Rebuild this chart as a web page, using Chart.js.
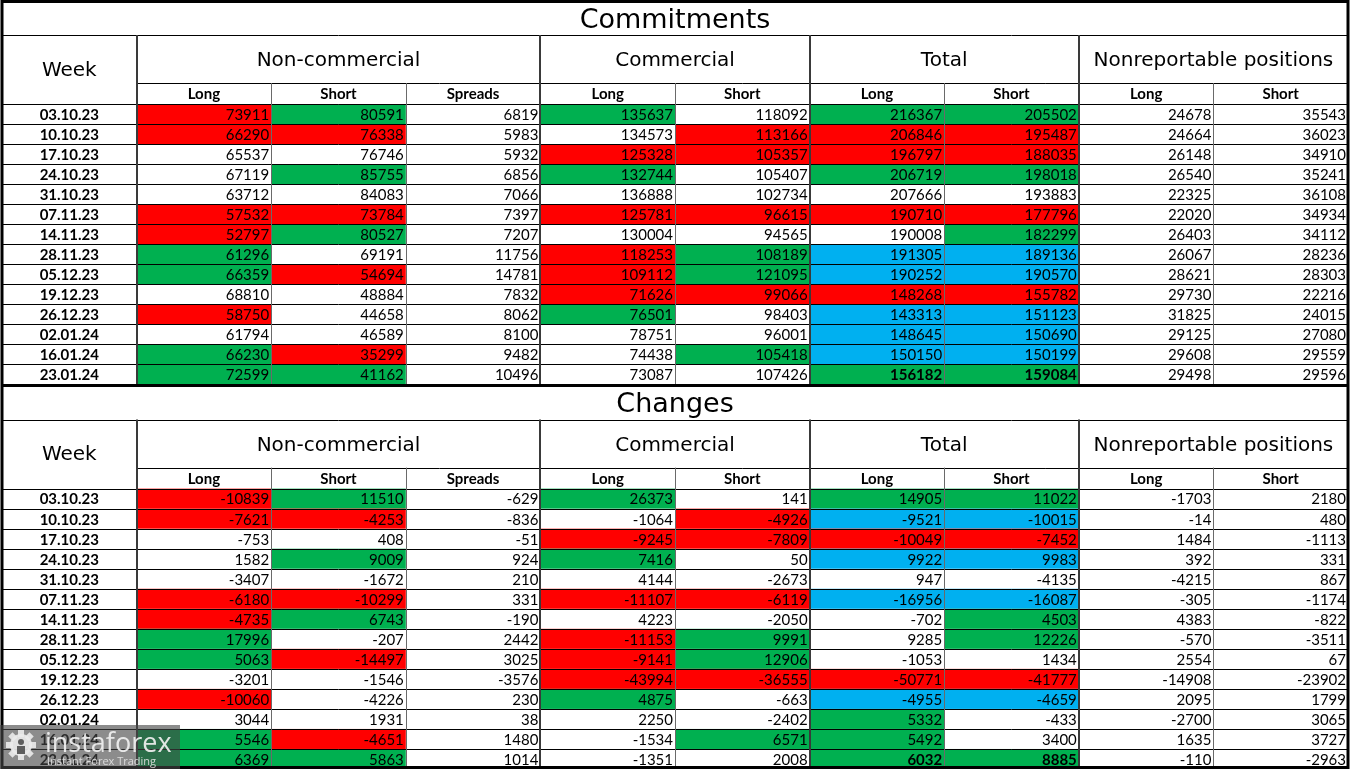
<!DOCTYPE html>
<html>
<head>
<meta charset="utf-8">
<title>Commitments</title>
<script src="https://cdn.jsdelivr.net/npm/chart.js@4.4.0/dist/chart.umd.min.js"></script>
<style>
    html, body { margin: 0; padding: 0; background: #fff; }
    #tabla { display: block; }
</style>
</head>
<body>
<canvas id="tabla" width="1350" height="769"></canvas>
<script>
// --- DATOS ---
const weeks = ['03.10.23', '10.10.23', '17.10.23', '24.10.23', '31.10.23', '07.11.23', '14.11.23',
               '28.11.23', '05.12.23', '19.12.23', '26.12.23', '02.01.24', '16.01.24', '23.01.24'];
const sectionTitles = ['Commitments', 'Changes'];
const groupTitles = ['Non-commercial', 'Commercial', 'Total', 'Nonreportable positions'];
const groupSpans = [3, 2, 2, 2];
const columnLabels = ['Long', 'Short', 'Spreads', 'Long', 'Short', 'Long', 'Short', 'Long', 'Short'];

// Commitments
const commNcLong   = [73911, 66290, 65537, 67119, 63712, 57532, 52797, 61296, 66359, 68810, 58750, 61794, 66230, 72599];
const commNcShort  = [80591, 76338, 76746, 85755, 84083, 73784, 80527, 69191, 54694, 48884, 44658, 46589, 35299, 41162];
const commSpreads  = [6819, 5983, 5932, 6856, 7066, 7397, 7207, 11756, 14781, 7832, 8062, 8100, 9482, 10496];
const commCLong    = [135637, 134573, 125328, 132744, 136888, 125781, 130004, 118253, 109112, 71626, 76501, 78751, 74438, 73087];
const commCShort   = [118092, 113166, 105357, 105407, 102734, 96615, 94565, 108189, 121095, 99066, 98403, 96001, 105418, 107426];
const commTLong    = [216367, 206846, 196797, 206719, 207666, 190710, 190008, 191305, 190252, 148268, 143313, 148645, 150150, 156182];
const commTShort   = [205502, 195487, 188035, 198018, 193883, 177796, 182299, 189136, 190570, 155782, 151123, 150690, 150199, 159084];
const commNrLong   = [24678, 24664, 26148, 26540, 22325, 22020, 26403, 26067, 28621, 29730, 31825, 29125, 29608, 29498];
const commNrShort  = [35543, 36023, 34910, 35241, 36108, 34934, 34112, 28236, 28303, 22216, 24015, 27080, 29559, 29596];
// marcas por fila: r = rojo, g = verde, b = azul, G = verde en negrita, . = sin color
const commMarks = ['rg.g.gg..', 'rr..rrr..', '...rrrr..', '.g.g.gg..', '.........', 'rr.rrrr..', 'rg....g..',
                   'g..rgbb..', 'gr.rgbb..', '...rrrr..', 'r..g.bb..', '.....bb..', 'gr..gbb..', 'gg...GG..'];

// Changes
const chgNcLong  = [-10839, -7621, -753, 1582, -3407, -6180, -4735, 17996, 5063, -3201, -10060, 3044, 5546, 6369];
const chgNcShort = [11510, -4253, 408, 9009, -1672, -10299, 6743, -207, -14497, -1546, -4226, 1931, -4651, 5863];
const chgSpreads = [-629, -836, -51, 924, 210, 331, -190, 2442, 3025, -3576, 230, 38, 1480, 1014];
const chgCLong   = [26373, -1064, -9245, 7416, 4144, -11107, 4223, -11153, -9141, -43994, 4875, 2250, -1534, -1351];
const chgCShort  = [141, -4926, -7809, 50, -2673, -6119, -2050, 9991, 12906, -36555, -663, -2402, 6571, 2008];
const chgTLong   = [14905, -9521, -10049, 9922, 947, -16956, -702, 9285, -1053, -50771, -4955, 5332, 5492, 6032];
const chgTShort  = [11022, -10015, -7452, 9983, -4135, -16087, 4503, 12226, 1434, -41777, -4659, -433, 3400, 8885];
const chgNrLong  = [-1703, -14, 1484, 392, -4215, -305, 4383, -570, 2554, -14908, 2095, -2700, 1635, -110];
const chgNrShort = [2180, 480, -1113, 331, 867, -1174, -822, -3511, 67, -23902, 1799, 3065, 3727, -2963];
const chgMarks = ['rg.g.gg..', 'rr..rbb..', '...rrrr..', '.g.g.bb..', '.........', 'rr.rrbb..', 'rg....g..',
                  'g..rg.g..', 'gr.rg....', '...rrrr..', 'r..g.bb..', '.....g...', 'gr..gg...', 'gg...GG..'];

// --- ESTILOS ---
const colores = { r: '#FF0000', g: '#00B050', G: '#00B050', b: '#00B0F0' };
const fuenteTitulo = '27px "DejaVu Sans"';
const fuenteGrupo = '20px "DejaVu Sans"';
const fuenteSub = 'bold 15px Lato';
const fuenteDato = '15px Lato';
const fuenteDatoBold = 'bold 15px Lato';
const fuenteSemana = 'bold 15px Lato';

// alturas en unidades de fila
const TITLE_H = 1.75, HEAD_H = 2.4, SUB_H = 1.05;
const SECTION_H = TITLE_H + HEAD_H + SUB_H + weeks.length;

function armarFilas(cols) {
    return weeks.map((w, i) => cols.map(c => c[i]));
}

const secciones = [
    { titulo: sectionTitles[0], filas: armarFilas([commNcLong, commNcShort, commSpreads, commCLong, commCShort, commTLong, commTShort, commNrLong, commNrShort]), marcas: commMarks },
    { titulo: sectionTitles[1], filas: armarFilas([chgNcLong, chgNcShort, chgSpreads, chgCLong, chgCShort, chgTLong, chgTShort, chgNrLong, chgNrShort]), marcas: chgMarks }
];

// --- DIBUJO ---
function linea(ctx, x1, y1, x2, y2, color, ancho) {
    ctx.save();
    ctx.strokeStyle = color;
    ctx.lineWidth = ancho;
    const off = ancho % 2 === 1 ? 0.5 : 0;
    ctx.beginPath();
    if (y1 === y2) {
        const yy = Math.round(y1) + off;
        ctx.moveTo(x1, yy); ctx.lineTo(x2, yy);
    } else {
        const xx = Math.round(x1) + off;
        ctx.moveTo(xx, y1); ctx.lineTo(xx, y2);
    }
    ctx.stroke();
    ctx.restore();
}

function texto(ctx, str, x, y, fuente, align) {
    ctx.font = fuente;
    ctx.fillStyle = '#000';
    ctx.textAlign = align;
    ctx.textBaseline = 'middle';
    ctx.fillText(str, x, y);
}

function dibujarSeccion(ctx, sx, sy, sec, base) {
    const X = v => sx.getPixelForValue(v);
    const Y = v => sy.getPixelForValue(v);
    const yHead = base + TITLE_H;
    const ySub = yHead + HEAD_H;
    const yData = ySub + SUB_H;
    const yFin = base + SECTION_H;
    const ncols = columnLabels.length + 1;

    // celdas de colores
    sec.filas.forEach((fila, i) => {
        fila.forEach((v, c) => {
            const m = sec.marcas[i][c];
            if (m === '.') return;
            ctx.fillStyle = colores[m];
            ctx.fillRect(X(c + 1), Y(yData + i), X(c + 2) - X(c + 1), Y(yData + i + 1) - Y(yData + i));
        });
    });

    // titulo
    texto(ctx, sec.titulo, (X(0) + X(ncols)) / 2, (Y(base) + Y(yHead)) / 2 + 3, fuenteTitulo, 'center');
    // Week
    texto(ctx, 'Week', (X(0) + X(1)) / 2, (Y(yHead) + Y(yData)) / 2 + 1, fuenteGrupo, 'center');
    // grupos
    let c0 = 1;
    groupTitles.forEach((g, k) => {
        const c1 = c0 + groupSpans[k];
        texto(ctx, g, (X(c0) + X(c1)) / 2, (Y(yHead) + Y(ySub)) / 2 + 2, fuenteGrupo, 'center');
        c0 = c1;
    });
    // subencabezados
    columnLabels.forEach((l, c) => {
        texto(ctx, l, (X(c + 1) + X(c + 2)) / 2, (Y(ySub) + Y(yData)) / 2 + 1, fuenteSub, 'center');
    });
    // datos
    sec.filas.forEach((fila, i) => {
        const ym = (Y(yData + i) + Y(yData + i + 1)) / 2 + 1;
        texto(ctx, weeks[i], (X(0) + X(1)) / 2, ym, fuenteSemana, 'center');
        fila.forEach((v, c) => {
            const f = sec.marcas[i][c] === 'G' ? fuenteDatoBold : fuenteDato;
            texto(ctx, String(v), X(c + 2) - 2, ym, f, 'right');
        });
    });

    // lineas horizontales
    linea(ctx, X(0), Y(yHead), X(ncols), Y(yHead), '#000', 1);
    linea(ctx, X(1), Y(ySub), X(ncols), Y(ySub), '#000', 1);
    for (let i = 0; i <= weeks.length; i++) {
        linea(ctx, X(0), Y(yData + i), X(ncols), Y(yData + i), '#000', 1);
    }
    // lineas verticales
    const cortes = [1];
    groupSpans.reduce((acc, s) => { cortes.push(acc + s); return acc + s; }, 1);
    for (let c = 1; c < ncols; c++) {
        if (cortes.includes(c)) {
            linea(ctx, X(c), Y(yHead), X(c), Y(yFin), '#3a3a3a', 2);
        } else {
            linea(ctx, X(c), Y(ySub), X(c), Y(yFin), '#6a6a6a', 1);
        }
    }
    linea(ctx, X(0), Y(yFin), X(ncols), Y(yFin), '#000', 3);
}

function dibujarMarcaAgua(ctx, area) {
    const x0 = area.left - 2, y1 = area.bottom, h = 44, w = 180;
    const y0 = y1 - h;
    ctx.save();
    ctx.fillStyle = 'rgba(70,70,70,0.62)';
    ctx.fillRect(x0, y0, w, h);
    // engranaje
    const cx = x0 + 21, cy = y0 + 20;
    ctx.fillStyle = 'rgba(235,235,235,0.9)';
    for (let k = 0; k < 8; k++) {
        ctx.save();
        ctx.translate(cx, cy);
        ctx.rotate(k * Math.PI / 4);
        ctx.fillRect(-3, -15, 6, 7);
        ctx.restore();
    }
    ctx.beginPath();
    ctx.arc(cx, cy, 11, 0, Math.PI * 2);
    ctx.fill();
    ctx.fillStyle = 'rgba(80,80,80,0.9)';
    ctx.beginPath();
    ctx.arc(cx, cy - 3, 3, 0, Math.PI * 2);
    ctx.fill();
    ctx.fillRect(cx - 4, cy + 1, 8, 8);
    // texto
    ctx.fillStyle = 'rgba(240,240,240,0.92)';
    ctx.textAlign = 'left';
    ctx.textBaseline = 'alphabetic';
    ctx.font = '27px "Open Sans"';
    ctx.fillText('instaforex', x0 + 45, y0 + 27);
    ctx.font = '11px "Open Sans"';
    ctx.fillStyle = 'rgba(225,225,225,0.9)';
    ctx.fillText('Instant Forex Trading', x0 + 47, y0 + 40);
    ctx.restore();
}

const pluginTabla = {
    id: 'pluginTabla',
    afterDraw(chart) {
        const ctx = chart.ctx;
        const sx = chart.scales.x, sy = chart.scales.y;
        ctx.save();
        ctx.fillStyle = '#fff';
        ctx.fillRect(0, 0, chart.width, chart.height);
        secciones.forEach((sec, s) => dibujarSeccion(ctx, sx, sy, sec, s * SECTION_H));
        // borde exterior
        ctx.strokeStyle = '#000';
        ctx.lineWidth = 3;
        const ncols = columnLabels.length + 1;
        ctx.strokeRect(sx.getPixelForValue(0), sy.getPixelForValue(0) + 1.5,
            sx.getPixelForValue(ncols) - sx.getPixelForValue(0),
            sy.getPixelForValue(SECTION_H * 2) - sy.getPixelForValue(0) - 3);
        dibujarMarcaAgua(ctx, chart.chartArea);
        ctx.restore();
    }
};

document.addEventListener('DOMContentLoaded', function() {
    new Chart(document.getElementById('tabla'), {
        type: 'scatter',
        data: { datasets: [{ data: [], showLine: false }] },
        options: {
            responsive: false,
            animation: false,
            events: [],
            layout: { padding: { left: 2, right: 2, top: 0, bottom: 0 } },
            plugins: { legend: { display: false }, tooltip: { enabled: false } },
            scales: {
                x: { type: 'linear', min: 0, max: columnLabels.length + 1, display: false },
                y: { type: 'linear', min: 0, max: SECTION_H * 2, reverse: true, display: false }
            }
        },
        plugins: [pluginTabla]
    });
});
</script>
</body>
</html>
